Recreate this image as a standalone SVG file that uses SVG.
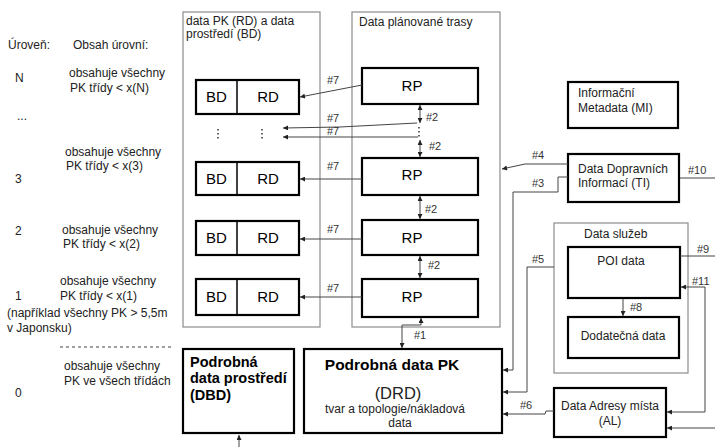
<svg xmlns="http://www.w3.org/2000/svg" width="715" height="447" viewBox="0 0 715 447">
<style>
text{font-family:"Liberation Sans",Arial,sans-serif;fill:#222}
.s{font-size:12px}
.lab{font-size:11px;fill:#333}
.big{font-size:15px;fill:#000}
.cont{fill:none;stroke:#8c8c8c;stroke-width:1.2}
.box{fill:#fff;stroke:#000;stroke-width:2.2}
.div{stroke:#000;stroke-width:1.5}
.c{fill:none;stroke:#444;stroke-width:1}
.b{font-weight:bold;fill:#000}
.mid{text-anchor:middle}
.dots{stroke:#333;stroke-width:1.5;stroke-dasharray:1.5 2.5}
</style>
<defs>
<marker id="ar" viewBox="0 0 6 6" refX="6" refY="3" markerWidth="6" markerHeight="5" markerUnits="userSpaceOnUse" orient="auto-start-reverse">
<path d="M0,0 L6,3 L0,6 z" fill="#222"/>
</marker>
</defs>
<rect width="715" height="447" fill="#fff"/>

<g id="levels">
<text class="s" x="8" y="49">Úroveň:</text>
<text class="s" x="73" y="49">Obsah úrovní:</text>
<text class="s" x="15" y="82">N</text>
<text class="s" x="69" y="77">obsahuje všechny</text>
<text class="s" x="70" y="92">PK třídy &lt; x(N)</text>
<text class="s" x="17" y="120">...</text>
<text class="s" x="65" y="156">obsahuje všechny</text>
<text class="s" x="66" y="170">PK třídy &lt; x(3)</text>
<text class="s" x="15" y="183">3</text>
<text class="s" x="15" y="235">2</text>
<text class="s" x="62" y="234">obsahuje všechny</text>
<text class="s" x="63" y="248">PK třídy &lt; x(2)</text>
<text class="s" x="60" y="285">obsahuje všechny</text>
<text class="s" x="15" y="300">1</text>
<text class="s" x="60" y="300">PK třídy &lt; x(1)</text>
<text class="s" x="7" y="317">(například všechny PK &gt; 5,5m</text>
<text class="s" x="7" y="332">v Japonsku)</text>
<line x1="60" y1="347" x2="172" y2="347" stroke="#444" stroke-width="1.2" stroke-dasharray="3 3"/>
<text class="s" x="64" y="370">obsahuje všechny</text>
<text class="s" x="64" y="385">PK ve všech třídách</text>
<text class="s" x="15" y="397">0</text>
</g>

<g id="container-pk">
<rect class="cont" x="183" y="12" width="137" height="315"/>
<text class="s" x="186" y="25">data PK (RD) a data</text>
<text class="s" x="186" y="38">prostředí (BD)</text>
<line class="dots" x1="218" y1="129" x2="218" y2="141"/>
<line class="dots" x1="262" y1="129" x2="262" y2="141"/>
</g>

<g id="container-route">
<rect class="cont" x="352" y="12" width="148" height="315"/>
<text class="s" x="359" y="26">Data plánované trasy</text>
<line class="dots" x1="419" y1="127" x2="419" y2="139"/>
</g>

<g id="container-services">
<rect class="cont" x="554" y="223" width="134" height="150"/>
<text class="s" x="584" y="238">Data služeb</text>
</g>

<g id="row1">
<rect class="box" x="196" y="80" width="103" height="34"/>
<line class="div" x1="237" y1="80" x2="237" y2="114"/>
<text class="big mid" x="216.5" y="102">BD</text>
<text class="big mid" x="268" y="102">RD</text>
</g>
<g id="row2">
<rect class="box" x="196" y="162" width="103" height="33"/>
<line class="div" x1="237" y1="162" x2="237" y2="195"/>
<text class="big mid" x="216.5" y="184">BD</text>
<text class="big mid" x="268" y="184">RD</text>
</g>
<g id="row3">
<rect class="box" x="196" y="221" width="103" height="34"/>
<line class="div" x1="237" y1="221" x2="237" y2="255"/>
<text class="big mid" x="216.5" y="243">BD</text>
<text class="big mid" x="268" y="243">RD</text>
</g>
<g id="row4">
<rect class="box" x="196" y="279" width="103" height="36"/>
<line class="div" x1="237" y1="279" x2="237" y2="315"/>
<text class="big mid" x="216.5" y="302">BD</text>
<text class="big mid" x="268" y="302">RD</text>
</g>

<g id="rp1"><rect class="box" x="362" y="68" width="116" height="36"/><text class="big mid" x="412" y="91">RP</text></g>
<g id="rp2"><rect class="box" x="362" y="158" width="116" height="37"/><text class="big mid" x="412" y="180">RP</text></g>
<g id="rp3"><rect class="box" x="362" y="220" width="116" height="35"/><text class="big mid" x="412" y="243">RP</text></g>
<g id="rp4"><rect class="box" x="362" y="279" width="116" height="38"/><text class="big mid" x="412" y="302">RP</text></g>

<g id="dbd">
<rect class="box" x="183" y="349" width="111" height="84"/>
<text class="b" x="190" y="367" font-size="14.5">Podrobná</text>
<text class="b" x="190" y="383" font-size="14.5">data prostředí</text>
<text class="b" x="190" y="400" font-size="14.5">(DBD)</text>
</g>

<g id="drd">
<rect class="box" x="304" y="349" width="198" height="84"/>
<text class="b mid" x="392" y="370" font-size="15.5">Podrobná data PK</text>
<text class="mid" x="398" y="399" font-size="16.5" fill="#000">(DRD)</text>
<text class="mid" x="395" y="413" font-size="12" fill="#000">tvar a topologie/nákladová</text>
<text class="mid" x="400" y="427" font-size="12" fill="#000">data</text>
</g>

<g id="mi">
<rect class="box" x="568" y="82" width="110" height="46"/>
<text class="s" x="578" y="97">Informační</text>
<text class="s" x="578" y="112">Metadata (MI)</text>
</g>

<g id="ti">
<rect class="box" x="568" y="154" width="111" height="48"/>
<text class="s" x="578" y="173">Data Dopravních</text>
<text class="s" x="578" y="187">Informací (TI)</text>
</g>

<g id="poi">
<rect class="box" x="568" y="247" width="112" height="51"/>
<text class="s mid" x="621" y="265">POI data</text>
</g>

<g id="dodatecna">
<rect class="box" x="568" y="317" width="111" height="41"/>
<text class="s mid" x="623" y="340">Dodatečná data</text>
</g>

<g id="al">
<rect class="box" x="554" y="388" width="112" height="49"/>
<text class="s mid" x="610" y="410">Data Adresy místa</text>
<text class="s mid" x="610" y="425">(AL)</text>
</g>

<g id="connectors">
<path class="c" d="M362,85 L300,97" marker-end="url(#ar)"/>
<path class="c" d="M417,123 L340,127 L283,128" marker-end="url(#ar)"/>
<path class="c" d="M418,137 L283,137" marker-end="url(#ar)"/>
<path class="c" d="M362,179 L300,179" marker-end="url(#ar)"/>
<path class="c" d="M362,239 L300,239" marker-end="url(#ar)"/>
<path class="c" d="M362,297 L300,297" marker-end="url(#ar)"/>
<text class="lab" x="327" y="84">#7</text>
<text class="lab" x="327" y="122">#7</text>
<text class="lab" x="327" y="135">#7</text>
<text class="lab" x="327" y="170">#7</text>
<text class="lab" x="327" y="233">#7</text>
<text class="lab" x="327" y="292">#7</text>

<path class="c" d="M420,105 L420,123" marker-start="url(#ar)" marker-end="url(#ar)"/>
<path class="c" d="M420,140 L420,157" marker-start="url(#ar)" marker-end="url(#ar)"/>
<path class="c" d="M420,196 L420,219" marker-start="url(#ar)" marker-end="url(#ar)"/>
<path class="c" d="M420,256 L420,278" marker-start="url(#ar)" marker-end="url(#ar)"/>
<text class="lab" x="426" y="121">#2</text>
<text class="lab" x="429" y="150">#2</text>
<text class="lab" x="425" y="213">#2</text>
<text class="lab" x="428" y="269">#2</text>

<path class="c" d="M421,318 L421,325 L402,325 L402,348" marker-start="url(#ar)" marker-end="url(#ar)"/>
<text class="lab" x="414" y="339">#1</text>

<path class="c" d="M568,164 L525,164 L502,169" marker-end="url(#ar)"/>
<text class="lab" x="532" y="159">#4</text>
<path class="c" d="M568,177 L558,177 L558,192 L513,192 L513,370 L503,370" marker-end="url(#ar)"/>
<text class="lab" x="532" y="187">#3</text>
<path class="c" d="M554,267 L527,267 L527,392 L503,392" marker-end="url(#ar)"/>
<text class="lab" x="532" y="263">#5</text>
<path class="c" d="M554,411 L546,411 L545,414 L503,414" marker-end="url(#ar)"/>
<text class="lab" x="520" y="409">#6</text>
<path class="c" d="M680,178 L715,178"/>
<text class="lab" x="688" y="174">#10</text>
<path class="c" d="M680,256 L715,256"/>
<text class="lab" x="697" y="253">#9</text>
<path class="c" d="M623,299 L623,316" marker-end="url(#ar)"/>
<text class="lab" x="630" y="311">#8</text>
<path class="c" d="M681,287 L705,287 L705,412 L667,412" marker-start="url(#ar)" marker-end="url(#ar)"/>
<text class="lab" x="692" y="285">#11</text>
<path class="c" d="M715,428 L667,428" marker-end="url(#ar)"/>
<path class="c" d="M239,447 L239,435" marker-end="url(#ar)"/>
</g>
</svg>
